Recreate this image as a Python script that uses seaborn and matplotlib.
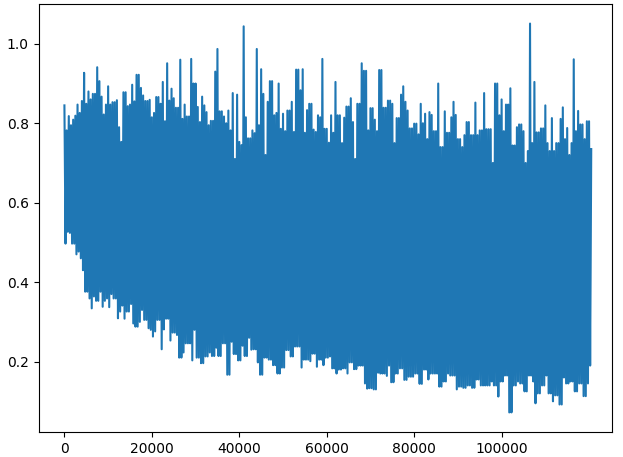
import pandas as pd
import matplotlib
matplotlib.use('Agg')
import matplotlib.pyplot as plt
import seaborn as sns

# Envolvente (pérdida por iteración)
# picos: un valor cada 500 iteraciones (0 ... 120500)
picos = [
    0.845, 0.782, 0.818, 0.795, 0.809, 0.819, 0.847, 0.826, 0.856, 0.927,
    0.849, 0.880, 0.860, 0.874, 0.874, 0.941, 0.906, 0.867, 0.822, 0.847,
    0.893, 0.847, 0.853, 0.853, 0.858, 0.790, 0.753, 0.878, 0.878, 0.843,
    0.847, 0.897, 0.855, 0.922, 0.922, 0.889, 0.870, 0.856, 0.856, 0.859,
    0.815, 0.826, 0.866, 0.866, 0.849, 0.904, 0.805, 0.951,
    0.857, 0.887, 0.863, 0.839, 0.839, 0.960, 0.811, 0.847, 0.817, 0.817,
    0.962, 0.900, 0.900, 0.841, 0.803, 0.867, 0.845, 0.828, 0.795, 0.806,
    0.806, 0.930, 0.987, 0.830, 0.830, 0.817, 0.800, 0.832, 0.782, 0.876,
    0.710, 0.872, 0.753, 0.745, 1.044, 0.815, 0.762, 0.762, 0.782, 0.775,
    0.987, 0.795, 0.936, 0.874, 0.720, 0.854, 0.906, 0.906, 0.820, 0.826,
    0.900, 0.786,
    0.824, 0.780, 0.832, 0.832, 0.854, 0.778, 0.935, 0.935, 0.883, 0.936,
    0.776, 0.833, 0.849, 0.849, 0.784, 0.778, 0.820, 0.815, 0.962, 0.786,
    0.786, 0.751, 0.820, 0.776, 0.904, 0.820, 0.820, 0.750, 0.814, 0.842,
    0.842, 0.863, 0.803, 0.710, 0.849, 0.849, 0.951, 0.932, 0.932, 0.782,
    0.838, 0.838, 0.809, 0.780, 0.934, 0.934, 0.839, 0.839, 0.857,
    0.857,
    0.849, 0.750, 0.813, 0.813, 0.872, 0.893, 0.854, 0.832, 0.787, 0.787,
    0.799, 0.799, 0.772, 0.849, 0.800, 0.824, 0.760, 0.828, 0.821, 0.780,
    0.780, 0.900, 0.740, 0.740, 0.830, 0.776, 0.776, 0.815, 0.854, 0.821,
    0.760, 0.760, 0.740, 0.770, 0.803, 0.803, 0.770, 0.770, 0.852, 0.770,
    0.782, 0.782, 0.876, 0.785, 0.785, 0.785, 0.700, 0.900, 0.900, 0.820,
    0.860, 0.780, 0.847, 0.847, 0.888, 0.744, 0.744, 0.790, 0.797, 0.797,
    0.780, 0.700, 0.730, 1.051, 0.750, 0.904, 0.777, 0.777, 0.787, 0.787,
    0.845, 0.750, 0.730, 0.813, 0.730, 0.750, 0.750, 0.811, 0.840, 0.760,
    0.788, 0.720, 0.750, 0.961, 0.780, 0.831, 0.797, 0.797, 0.760, 0.805,
    0.805, 0.735,
]
# valles: un valor cada 500 iteraciones (250 ... 120250)
valles = [
    0.497, 0.527, 0.524, 0.497, 0.497, 0.470, 0.477, 0.460, 0.430, 0.376,
    0.376, 0.359, 0.334, 0.364, 0.353, 0.353, 0.376, 0.338, 0.353, 0.359,
    0.337, 0.370, 0.359, 0.359, 0.309, 0.326, 0.341, 0.308, 0.326, 0.326,
    0.345, 0.296, 0.288, 0.288, 0.300, 0.330, 0.305, 0.305, 0.284, 0.280,
    0.263, 0.276, 0.305, 0.305, 0.231, 0.281, 0.308, 0.308,
    0.253, 0.273, 0.273, 0.267, 0.210, 0.210, 0.223, 0.246, 0.246, 0.246,
    0.203, 0.280, 0.210, 0.210, 0.196, 0.196, 0.213, 0.213, 0.223, 0.214,
    0.214, 0.235, 0.214, 0.214, 0.246, 0.246, 0.167, 0.167, 0.250, 0.219,
    0.219, 0.203, 0.203, 0.240, 0.214, 0.214, 0.260, 0.230, 0.231, 0.231,
    0.198, 0.167, 0.167, 0.210, 0.210, 0.205, 0.205, 0.191, 0.191, 0.170,
    0.170,
    0.185,
    0.185, 0.229, 0.229, 0.213, 0.213, 0.238, 0.238, 0.238, 0.185, 0.205,
    0.205, 0.205, 0.201, 0.220, 0.220, 0.187, 0.205, 0.205, 0.191, 0.210,
    0.210, 0.213, 0.183, 0.183, 0.170, 0.180, 0.180, 0.183, 0.183, 0.170,
    0.198, 0.198, 0.181, 0.181, 0.190, 0.190, 0.190, 0.145, 0.132, 0.133,
    0.133, 0.130, 0.130, 0.172, 0.170, 0.170, 0.170, 0.164, 0.190,
    0.148,
    0.148, 0.170, 0.170, 0.183, 0.183, 0.154, 0.154, 0.162, 0.162, 0.162,
    0.170, 0.170, 0.144, 0.144, 0.180, 0.180, 0.155, 0.170, 0.170, 0.170,
    0.170, 0.137, 0.137, 0.150, 0.150, 0.170, 0.165, 0.165, 0.165, 0.130,
    0.137, 0.137, 0.134, 0.134, 0.140, 0.140, 0.134, 0.134, 0.155, 0.155,
    0.140, 0.140, 0.140, 0.140, 0.140, 0.150, 0.140, 0.140, 0.112,
    0.150,
    0.150, 0.165, 0.165, 0.072, 0.072, 0.140, 0.140, 0.150, 0.145, 0.145,
    0.125, 0.125, 0.165, 0.165, 0.150, 0.095, 0.120, 0.120, 0.140, 0.140,
    0.165, 0.120, 0.120, 0.100, 0.115, 0.115, 0.092, 0.092, 0.160, 0.145,
    0.145, 0.150, 0.150, 0.125, 0.125, 0.145, 0.145, 0.113, 0.113, 0.145,
    0.190,
]
paso = 500

# Intercalar picos y valles en una sola serie
iteraciones = []
perdida = []
for i, p in enumerate(picos):
    iteraciones.append(i * paso)
    perdida.append(p)
    if i < len(valles):
        iteraciones.append(i * paso + paso // 2)
        perdida.append(valles[i])

df = pd.DataFrame({'iteracion': iteraciones, 'loss': perdida})

fig = plt.figure(figsize=(6.23, 4.57), dpi=100)
ax = fig.add_subplot(111)
fig.subplots_adjust(left=0.062, right=0.982, bottom=0.055, top=0.991)

sns.lineplot(data=df, x='iteracion', y='loss', ax=ax, color='#1f77b4',
             linewidth=1.5, estimator=None, sort=False)

ax.set_xlim(-5900, 125200)
ax.set_xlabel('')
ax.set_ylabel('')
ax.set_xticks([0, 20000, 40000, 60000, 80000, 100000])
ax.set_yticks([0.2, 0.4, 0.6, 0.8, 1.0])

plt.savefig('out.png', dpi=100)
